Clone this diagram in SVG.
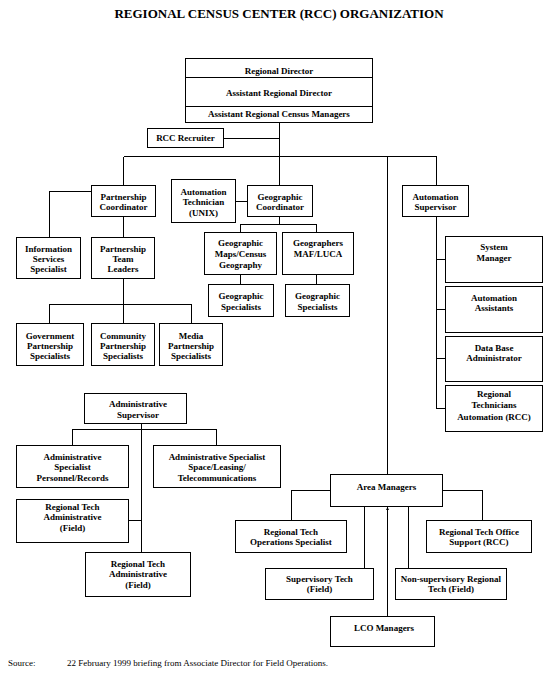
<svg xmlns="http://www.w3.org/2000/svg" width="554" height="679" viewBox="0 0 554 679">
<defs>
<style>
.box{fill:#fff;stroke:#000;stroke-width:1;shape-rendering:crispEdges}
.ln{fill:none;stroke:#000;stroke-width:1;shape-rendering:crispEdges}
.t{font-family:"Liberation Serif","Times New Roman",serif;font-size:9px;font-weight:bold;text-anchor:middle;fill:#000}
.title{font-family:"Liberation Serif","Times New Roman",serif;font-size:13px;font-weight:bold;text-anchor:middle;fill:#000}
.src{font-family:"Liberation Serif","Times New Roman",serif;font-size:9px;fill:#000}
</style>
<marker id="arr" markerUnits="userSpaceOnUse" markerWidth="4" markerHeight="4" refX="3" refY="1.5" orient="auto">
<path d="M0,0 L3,1.5 L0,3 z" fill="#000"/>
</marker>
</defs>
<rect width="554" height="679" fill="#fff"/>
<text class="title" x="279" y="18">REGIONAL CENSUS CENTER (RCC) ORGANIZATION</text>

<g id="connectors">
<path class="ln" d="M279.5 122.5 V156.5 M223.5 138.5 H279.5 M123.5 156.5 H436.5 M123.5 156.5 V185.5 M279.5 156.5 V185.5 M387.5 156.5 V474.5 M436.5 156.5 V185.5"/>
<path class="ln" d="M91.5 191.5 H49.5 V237.5 M123.5 216.5 V237.5 M123.5 278.5 V304.5 M49.5 323.5 V304.5 H191.5 V323.5 M123.5 304.5 V323.5"/>
<path class="ln" d="M235.5 201.5 H247.5 M279.5 216.5 V224.5 M240.5 232.5 V224.5 H316.5 V232.5 M240.5 274.5 V284.5 M316.5 274.5 V284.5"/>
<path class="ln" d="M436.5 216.5 V408.5 M436.5 259.5 H445.5 M436.5 309.5 H445.5 M436.5 358.5 H445.5 M436.5 408.5 H445.5"/>
<path class="ln" d="M141.5 423.5 V552.5 M72.5 445.5 V429.5 H216.5 V445.5 M128.5 520.5 H141.5"/>
<path class="ln" d="M330.5 490.5 H291.5 V520.5 M442.5 490.5 H482.5 V520.5 M364.5 506.5 V568.5 M408.5 506.5 V568.5"/>
<path class="ln" d="M387.5 616.5 V507" marker-end="url(#arr)"/>
</g>

<g id="regional-director">
<rect class="box" x="185.5" y="58.5" width="187" height="64"/>
<path class="ln" d="M185.5 77.5 H372.5 M185.5 106.5 H372.5"/>
<text class="t" x="279" y="73.5">Regional Director</text>
<text class="t" x="279" y="95.5">Assistant Regional Director</text>
<text class="t" x="279" y="117">Assistant Regional Census Managers</text>
</g>

<g id="rcc-recruiter">
<rect class="box" x="147.5" y="128.5" width="76" height="19"/>
<text class="t" x="185.5" y="141">RCC Recruiter</text>
</g>

<g id="partnership-coordinator">
<rect class="box" x="91.5" y="185.5" width="64" height="31"/>
<text class="t" x="123.5" y="199.5">Partnership</text>
<text class="t" x="123.5" y="210">Coordinator</text>
</g>

<g id="information-services-specialist">
<rect class="box" x="16.5" y="237.5" width="64" height="41"/>
<text class="t" x="48.5" y="252">Information</text>
<text class="t" x="48.5" y="262">Services</text>
<text class="t" x="48.5" y="272">Specialist</text>
</g>

<g id="partnership-team-leaders">
<rect class="box" x="91.5" y="237.5" width="63" height="41"/>
<text class="t" x="123" y="252">Partnership</text>
<text class="t" x="123" y="262">Team</text>
<text class="t" x="123" y="272">Leaders</text>
</g>

<g id="government-partnership-specialists">
<rect class="box" x="16.5" y="323.5" width="67" height="42"/>
<text class="t" x="50" y="338.5">Government</text>
<text class="t" x="50" y="348.5">Partnership</text>
<text class="t" x="50" y="359">Specialists</text>
</g>

<g id="community-partnership-specialists">
<rect class="box" x="91.5" y="323.5" width="63" height="42"/>
<text class="t" x="123" y="338.5">Community</text>
<text class="t" x="123" y="348.5">Partnership</text>
<text class="t" x="123" y="359">Specialists</text>
</g>

<g id="media-partnership-specialists">
<rect class="box" x="159.5" y="323.5" width="63" height="42"/>
<text class="t" x="191" y="338.5">Media</text>
<text class="t" x="191" y="348.5">Partnership</text>
<text class="t" x="191" y="359">Specialists</text>
</g>

<g id="automation-technician">
<rect class="box" x="171.5" y="179.5" width="64" height="43"/>
<text class="t" x="203.5" y="195">Automation</text>
<text class="t" x="203.5" y="205">Technician</text>
<text class="t" x="203.5" y="215.5">(UNIX)</text>
</g>

<g id="geographic-coordinator">
<rect class="box" x="247.5" y="185.5" width="65" height="31"/>
<text class="t" x="280" y="199.5">Geographic</text>
<text class="t" x="280" y="210">Coordinator</text>
</g>

<g id="geographic-maps">
<rect class="box" x="204.5" y="232.5" width="72" height="42"/>
<text class="t" x="240.5" y="246">Geographic</text>
<text class="t" x="240.5" y="257">Maps/Census</text>
<text class="t" x="240.5" y="268">Geography</text>
</g>

<g id="geographers-maf-luca">
<rect class="box" x="282.5" y="232.5" width="71" height="42"/>
<text class="t" x="318" y="246">Geographers</text>
<text class="t" x="318" y="257">MAF/LUCA</text>
</g>

<g id="geographic-specialists-1">
<rect class="box" x="208.5" y="284.5" width="65" height="32"/>
<text class="t" x="241" y="298.5">Geographic</text>
<text class="t" x="241" y="309.5">Specialists</text>
</g>

<g id="geographic-specialists-2">
<rect class="box" x="285.5" y="284.5" width="64" height="32"/>
<text class="t" x="317.5" y="298.5">Geographic</text>
<text class="t" x="317.5" y="309.5">Specialists</text>
</g>

<g id="automation-supervisor">
<rect class="box" x="402.5" y="185.5" width="66" height="31"/>
<text class="t" x="435.5" y="199.5">Automation</text>
<text class="t" x="435.5" y="210">Supervisor</text>
</g>

<g id="system-manager">
<rect class="box" x="445.5" y="236.5" width="97" height="46"/>
<text class="t" x="494" y="250">System</text>
<text class="t" x="494" y="260.5">Manager</text>
</g>

<g id="automation-assistants">
<rect class="box" x="445.5" y="286.5" width="97" height="46"/>
<text class="t" x="494" y="300.5">Automation</text>
<text class="t" x="494" y="311">Assistants</text>
</g>

<g id="data-base-administrator">
<rect class="box" x="445.5" y="336.5" width="97" height="45"/>
<text class="t" x="494" y="350.5">Data Base</text>
<text class="t" x="494" y="361">Administrator</text>
</g>

<g id="regional-technicians-automation">
<rect class="box" x="445.5" y="385.5" width="97" height="46"/>
<text class="t" x="494" y="397">Regional</text>
<text class="t" x="494" y="408">Technicians</text>
<text class="t" x="494" y="419.5">Automation (RCC)</text>
</g>

<g id="administrative-supervisor">
<rect class="box" x="84.5" y="393.5" width="102" height="30"/>
<text class="t" x="138" y="407">Administrative</text>
<text class="t" x="138" y="418">Supervisor</text>
</g>

<g id="administrative-specialist-personnel">
<rect class="box" x="16.5" y="445.5" width="112" height="42"/>
<text class="t" x="72.5" y="460">Administrative</text>
<text class="t" x="72.5" y="470">Specialist</text>
<text class="t" x="72.5" y="481">Personnel/Records</text>
</g>

<g id="administrative-specialist-space">
<rect class="box" x="153.5" y="445.5" width="127" height="42"/>
<text class="t" x="217" y="460">Administrative Specialist</text>
<text class="t" x="217" y="470">Space/Leasing/</text>
<text class="t" x="217" y="481">Telecommunications</text>
</g>

<g id="regional-tech-administrative-1">
<rect class="box" x="16.5" y="499.5" width="112" height="43"/>
<text class="t" x="72.5" y="510">Regional Tech</text>
<text class="t" x="72.5" y="520">Administrative</text>
<text class="t" x="72.5" y="531">(Field)</text>
</g>

<g id="regional-tech-administrative-2">
<rect class="box" x="85.5" y="552.5" width="105" height="44"/>
<text class="t" x="138" y="567">Regional Tech</text>
<text class="t" x="138" y="577">Administrative</text>
<text class="t" x="138" y="587.5">(Field)</text>
</g>

<g id="area-managers">
<rect class="box" x="330.5" y="474.5" width="112" height="32"/>
<text class="t" x="386.5" y="490">Area Managers</text>
</g>

<g id="regional-tech-operations-specialist">
<rect class="box" x="235.5" y="520.5" width="111" height="32"/>
<text class="t" x="291" y="534.5">Regional Tech</text>
<text class="t" x="291" y="545">Operations Specialist</text>
</g>

<g id="regional-tech-office-support">
<rect class="box" x="426.5" y="520.5" width="105" height="32"/>
<text class="t" x="479" y="534.5">Regional Tech  Office</text>
<text class="t" x="479" y="545">Support (RCC)</text>
</g>

<g id="supervisory-tech">
<rect class="box" x="265.5" y="568.5" width="108" height="31"/>
<text class="t" x="319.5" y="582">Supervisory Tech</text>
<text class="t" x="319.5" y="592">(Field)</text>
</g>

<g id="non-supervisory-regional-tech">
<rect class="box" x="395.5" y="568.5" width="111" height="31"/>
<text class="t" x="451" y="582">Non-supervisory Regional</text>
<text class="t" x="451" y="592">Tech (Field)</text>
</g>

<g id="lco-managers">
<rect class="box" x="330.5" y="616.5" width="104" height="30"/>
<text class="t" x="384" y="631">LCO Managers</text>
</g>

<text class="src" x="8" y="666">Source:</text>
<text class="src" x="67" y="666">22 February 1999 briefing from Associate Director for Field Operations.</text>
</svg>
